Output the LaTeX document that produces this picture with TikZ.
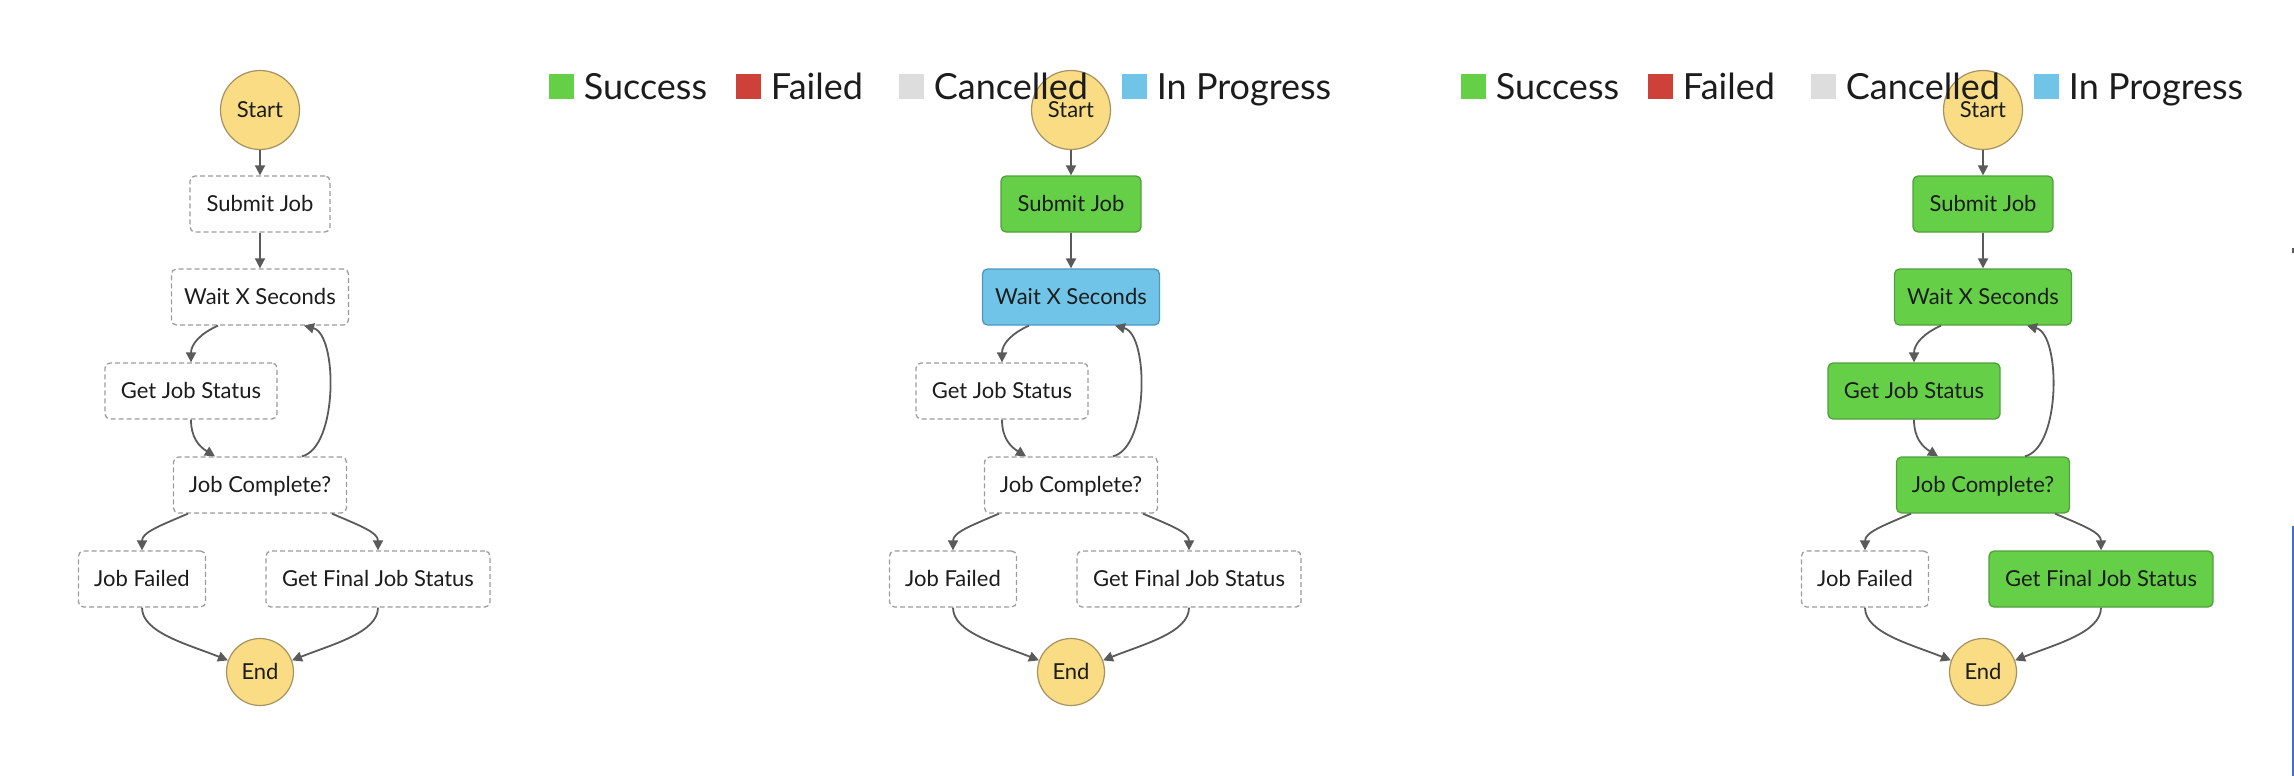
\documentclass[tikz,border=0pt]{standalone}
\usepackage{fontspec}
\setmainfont{Lato}
\usepackage{xcolor}
\usetikzlibrary{positioning, arrows.meta}

\definecolor{termyellow}{HTML}{F9DC83}
\definecolor{termline}{HTML}{A69260}
\definecolor{boxgray}{HTML}{9C9C9C}
\definecolor{linegray}{HTML}{5A5A5A}
\definecolor{okgreen}{HTML}{65CF48}
\definecolor{okline}{HTML}{4F9F3B}
\definecolor{runblue}{HTML}{6FC4E8}
\definecolor{runline}{HTML}{5096BE}
\definecolor{legred}{HTML}{CE4138}
\definecolor{leggray}{HTML}{DDDDDD}
\definecolor{inkblack}{HTML}{1C1C1C}
\definecolor{edgeblue}{HTML}{466EBE}

\newcommand{\nodefont}{\fontsize{22}{26}\selectfont}
\newcommand{\legfont}{\fontsize{36}{42}\selectfont}

\begin{document}
\begin{tikzpicture}[
    x=1pt, y=-1pt,
    pending/.style={rectangle, rounded corners=5pt, draw=boxgray, line width=1.3pt, dash pattern=on 5pt off 3pt, fill=white, minimum height=56pt, inner sep=0pt, font=\nodefont, text=inkblack, text height=15.8pt, text depth=0pt},
    succeeded/.style={pending, solid, fill=okgreen, draw=okline},
    running/.style={pending, solid, fill=runblue, draw=runline},
    ends/.style={circle, draw=termline, fill=termyellow, line width=1.2pt, inner sep=0pt, font=\nodefont, text=inkblack, text height=15.8pt, text depth=0pt},
    flow/.style={-{Triangle[length=10pt,width=10pt]}, draw=linegray, line width=1.8pt},
    legkey/.style={rectangle, minimum size=25pt, inner sep=0pt},
    legtext/.style={font=\legfont, text=inkblack, inner sep=0pt, text height=25.5pt, text depth=0pt}
]
  \useasboundingbox (0,0) rectangle (2294,776);

  % 第一列：全部未运行
  \node[ends, minimum size=79pt] (start1) at (260,110) {Start};
  \node[pending, minimum width=140pt] (submit1) at (260,204) {Submit Job};
  \node[pending, minimum width=177pt] (wait1) at (260,297) {Wait X Seconds};
  \node[pending, minimum width=172pt] (status1) at (191,391) {Get Job Status};
  \node[pending, minimum width=173pt] (check1) at (260,485) {Job Complete?};
  \node[pending, minimum width=127pt] (failed1) at (142,579) {Job Failed};
  \node[pending, minimum width=224pt] (final1) at (378,579) {Get Final Job Status};
  \node[ends, minimum size=67pt] (end1) at (260,672) {End};

  \draw[flow] (start1) -- (submit1);
  \draw[flow] (submit1) -- (wait1);
  \draw[flow] ([xshift=-42pt]wait1.south) .. controls +(-18,8) and +(0,-18) .. (status1.north);
  \draw[flow] (status1.south) .. controls +(0,18) and +(-16,-10) .. ([xshift=-45pt]check1.north);
  \draw[flow] ([xshift=42pt]check1.north) .. controls +(36,-9) and +(34,9) .. ([xshift=44pt]wait1.south);
  \draw[flow] ([xshift=-72pt]check1.south) .. controls +(-28,12) and +(0,-18) .. (failed1.north);
  \draw[flow] ([xshift=72pt]check1.south) .. controls +(28,12) and +(0,-18) .. (final1.north);
  \draw[flow] (failed1.south) .. controls +(0,25) and +(-40,-16) .. (end1.160);
  \draw[flow] (final1.south) .. controls +(0,25) and +(40,-16) .. (end1.20);

  % 第二列：等待中
  \node[ends, minimum size=79pt] (start2) at (1071,110) {Start};
  \node[succeeded, minimum width=140pt] (submit2) at (1071,204) {Submit Job};
  \node[running, minimum width=177pt] (wait2) at (1071,297) {Wait X Seconds};
  \node[pending, minimum width=172pt] (status2) at (1002,391) {Get Job Status};
  \node[pending, minimum width=173pt] (check2) at (1071,485) {Job Complete?};
  \node[pending, minimum width=127pt] (failed2) at (953,579) {Job Failed};
  \node[pending, minimum width=224pt] (final2) at (1189,579) {Get Final Job Status};
  \node[ends, minimum size=67pt] (end2) at (1071,672) {End};

  \draw[flow] (start2) -- (submit2);
  \draw[flow] (submit2) -- (wait2);
  \draw[flow] ([xshift=-42pt]wait2.south) .. controls +(-18,8) and +(0,-18) .. (status2.north);
  \draw[flow] (status2.south) .. controls +(0,18) and +(-16,-10) .. ([xshift=-45pt]check2.north);
  \draw[flow] ([xshift=42pt]check2.north) .. controls +(36,-9) and +(34,9) .. ([xshift=44pt]wait2.south);
  \draw[flow] ([xshift=-72pt]check2.south) .. controls +(-28,12) and +(0,-18) .. (failed2.north);
  \draw[flow] ([xshift=72pt]check2.south) .. controls +(28,12) and +(0,-18) .. (final2.north);
  \draw[flow] (failed2.south) .. controls +(0,25) and +(-40,-16) .. (end2.160);
  \draw[flow] (final2.south) .. controls +(0,25) and +(40,-16) .. (end2.20);

  % 第三列：成功结束
  \node[ends, minimum size=79pt] (start3) at (1983,110) {Start};
  \node[succeeded, minimum width=140pt] (submit3) at (1983,204) {Submit Job};
  \node[succeeded, minimum width=177pt] (wait3) at (1983,297) {Wait X Seconds};
  \node[succeeded, minimum width=172pt] (status3) at (1914,391) {Get Job Status};
  \node[succeeded, minimum width=173pt] (check3) at (1983,485) {Job Complete?};
  \node[pending, minimum width=127pt] (failed3) at (1865,579) {Job Failed};
  \node[succeeded, minimum width=224pt] (final3) at (2101,579) {Get Final Job Status};
  \node[ends, minimum size=67pt] (end3) at (1983,672) {End};

  \draw[flow] (start3) -- (submit3);
  \draw[flow] (submit3) -- (wait3);
  \draw[flow] ([xshift=-42pt]wait3.south) .. controls +(-18,8) and +(0,-18) .. (status3.north);
  \draw[flow] (status3.south) .. controls +(0,18) and +(-16,-10) .. ([xshift=-45pt]check3.north);
  \draw[flow] ([xshift=42pt]check3.north) .. controls +(36,-9) and +(34,9) .. ([xshift=44pt]wait3.south);
  \draw[flow] ([xshift=-72pt]check3.south) .. controls +(-28,12) and +(0,-18) .. (failed3.north);
  \draw[flow] ([xshift=72pt]check3.south) .. controls +(28,12) and +(0,-18) .. (final3.north);
  \draw[flow] (failed3.south) .. controls +(0,25) and +(-40,-16) .. (end3.160);
  \draw[flow] (final3.south) .. controls +(0,25) and +(40,-16) .. (end3.20);

  % 图例
  \node[legkey, fill=okgreen] (key2a) at (561,86.5) {};
  \node[legtext, right=10pt of key2a] (txt2a) {Success};
  \node[legkey, fill=legred] (key2b) at (748,86.5) {};
  \node[legtext, right=10pt of key2b] (txt2b) {Failed};
  \node[legkey, fill=leggray] (key2c) at (911,86.5) {};
  \node[legtext, right=10pt of key2c] (txt2c) {Cancelled};
  \node[legkey, fill=runblue] (key2d) at (1134,86.5) {};
  \node[legtext, right=10pt of key2d] (txt2d) {In Progress};

  \node[legkey, fill=okgreen] (key3a) at (1473,86.5) {};
  \node[legtext, right=10pt of key3a] (txt3a) {Success};
  \node[legkey, fill=legred] (key3b) at (1660,86.5) {};
  \node[legtext, right=10pt of key3b] (txt3b) {Failed};
  \node[legkey, fill=leggray] (key3c) at (1823,86.5) {};
  \node[legtext, right=10pt of key3c] (txt3c) {Cancelled};
  \node[legkey, fill=runblue] (key3d) at (2046,86.5) {};
  \node[legtext, right=10pt of key3d] (txt3d) {In Progress};

  % 右边缘
  \fill[linegray] (2291.5,248) rectangle (2294,253);
  \draw[edgeblue, line width=1.5pt] (2293,526) -- (2293,776);
\end{tikzpicture}
\end{document}
